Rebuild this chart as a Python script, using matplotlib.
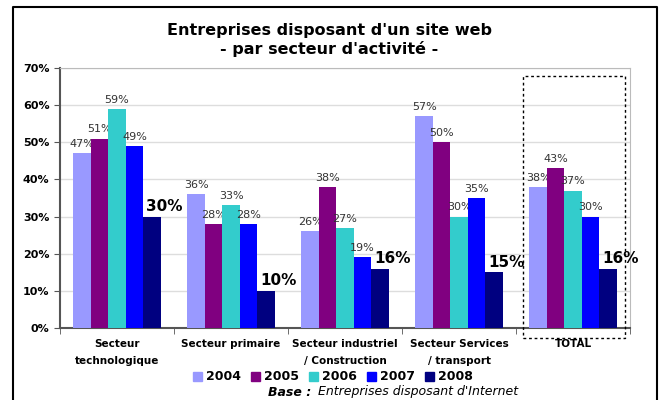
import numpy as np
import matplotlib.pyplot as plt
from matplotlib.patches import Rectangle, Patch

categories = ["Secteur\ntechnologique", "Secteur primaire", "Secteur industriel\n/ Construction",
              "Secteur Services\n/ transport", "TOTAL"]
years = ["2004", "2005", "2006", "2007", "2008"]
v2004 = [47, 36, 26, 57, 38]
v2005 = [51, 28, 38, 50, 43]
v2006 = [59, 33, 27, 30, 37]
v2007 = [49, 28, 19, 35, 30]
v2008 = [30, 10, 16, 15, 16]
series = [v2004, v2005, v2006, v2007, v2008]
colors = ["#9999FF", "#800080", "#33CCCC", "#0000FF", "#000080"]

plt.rcParams['font.family'] = ['DejaVu Sans']
fig = plt.figure(figsize=(6.59, 4.0), dpi=100)
ax = fig.add_axes([60 / 659, 1 - 328 / 400, 570 / 659, 260 / 400])

x = np.arange(len(categories))
w = 0.153
for i, (vals, c) in enumerate(zip(series, colors)):
    pos = x + (i - 2) * w
    ax.bar(pos, vals, w, color=c, zorder=3)
    for p, v in zip(pos, vals):
        if i == 4:
            ax.annotate(f"{v}%", (p, v), xytext=(9, 2), textcoords="offset points",
                        ha="center", va="bottom", fontsize=11, fontweight="bold", color="black")
        else:
            ax.annotate(f"{v}%", (p, v), xytext=(0, 3), textcoords="offset points",
                        ha="center", va="bottom", fontsize=8, color="#333333")

ax.set_xlim(-0.5, 4.5)
ax.set_ylim(0, 70)
ax.set_yticks(range(0, 71, 10))
ax.set_yticklabels([f"{t}%" for t in range(0, 71, 10)], fontsize=8, fontweight="bold")
ax.set_xticks(x)
ax.set_xticklabels(categories, fontsize=7.5, fontweight="bold", linespacing=1.85)
ax.tick_params(axis="x", length=0, pad=8)
ax.set_xticks(np.arange(-0.5, 5, 1), minor=True)
ax.tick_params(axis="x", which="minor", length=4, color="#555555")
ax.tick_params(axis="y", length=4, color="#555555")
ax.grid(axis="y", color="#dddddd", linewidth=1, zorder=0)
for s in ["top", "right"]:
    ax.spines[s].set_color("#bbbbbb")
for s in ["left", "bottom"]:
    ax.spines[s].set_color("#555555")
    ax.spines[s].set_linewidth(1.5)

ax.add_patch(Rectangle((3.56, -2.7), 0.9, 70.6, fill=False, linestyle=(0, (2, 2)),
                       linewidth=1, edgecolor="black", clip_on=False, zorder=4))

fig.text(0.5, 1 - 40 / 400, "Entreprises disposant d'un site web\n- par secteur d'activité -",
         ha="center", va="center", fontsize=11.5, fontweight="bold", linespacing=1.3)

handles = [Patch(color=c, label=y) for c, y in zip(colors, years)]
fig.legend(handles=handles, loc="center", bbox_to_anchor=(0.505, 1 - 377 / 400), ncol=5, frameon=False,
           prop={"weight": "bold", "size": 9}, handlelength=0.75, handleheight=0.75,
           handletextpad=0.3, columnspacing=0.8)

fig.text(268 / 659, 1 - 392 / 400, "Base :", fontsize=9, fontweight="bold", style="italic",
         ha="left", va="center")
fig.text(318 / 659, 1 - 392 / 400, "Entreprises disposant d'Internet", fontsize=9, style="italic",
         ha="left", va="center")

fig.add_artist(plt.Line2D([13 / 659, 13 / 659, 657 / 659, 657 / 659], [-0.01, 1 - 7 / 400, 1 - 7 / 400, -0.01],
                          color="black", linewidth=1.5, transform=fig.transFigure))

fig.savefig("out.png", dpi=100)
